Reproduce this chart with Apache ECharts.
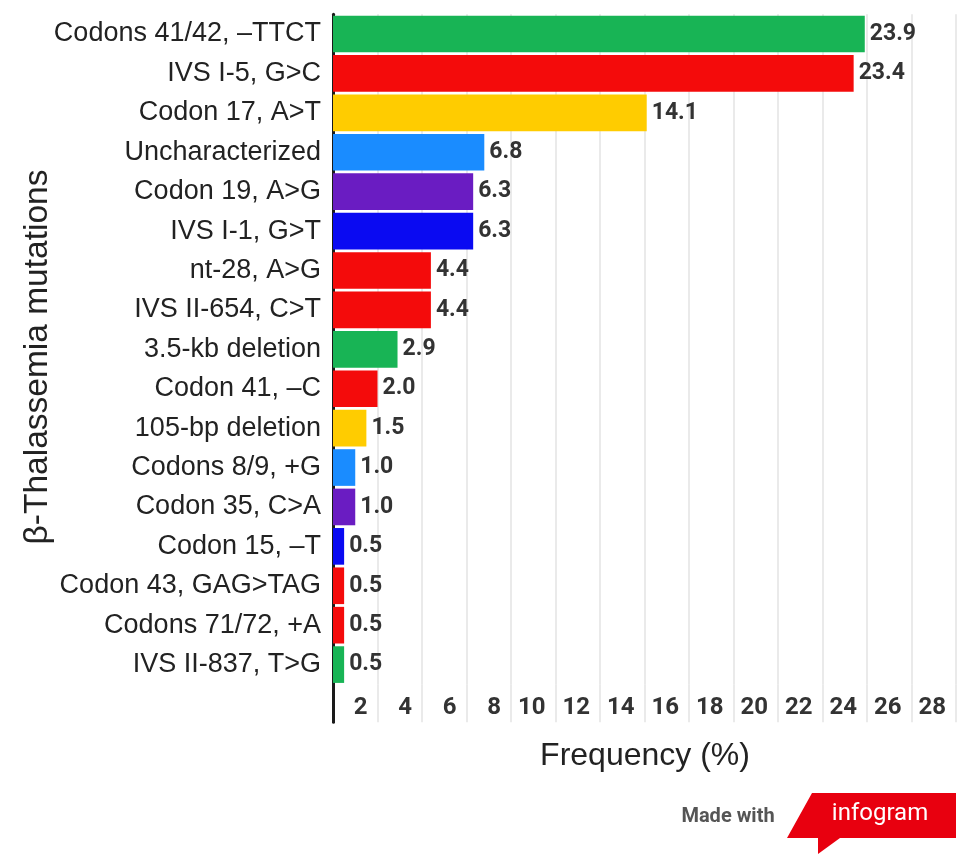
<!DOCTYPE html>
<html>
<head>
<meta charset="utf-8">
<style>html,body{margin:0;padding:0;background:#fff;}#c{width:969px;height:868px;}</style>
<script src="https://cdn.jsdelivr.net/npm/echarts@6/dist/echarts.min.js"></script>
</head>
<body>
<div id="c"></div>
<script>
const categories = [
  'Codons 41/42, \u2013TTCT', 'IVS I-5, G>C', 'Codon 17, A>T', 'Uncharacterized',
  'Codon 19, A>G', 'IVS I-1, G>T', 'nt-28, A>G', 'IVS II-654, C>T',
  '3.5-kb deletion', 'Codon 41, \u2013C', '105-bp deletion', 'Codons 8/9, +G',
  'Codon 35, C>A', 'Codon 15, \u2013T', 'Codon 43, GAG>TAG', 'Codons 71/72, +A',
  'IVS II-837, T>G'
];
const values = [23.9, 23.4, 14.1, 6.8, 6.3, 6.3, 4.4, 4.4, 2.9, 2.0, 1.5, 1.0, 1.0, 0.5, 0.5, 0.5, 0.5];
const palette = ['#18b455', '#f40b0b', '#ffcc00', '#1a8cff', '#6a1cc2', '#0a0af2', '#f40b0b', '#f40b0b'];
const xMin = 0, xMax = 28, xStep = 2;
const xTitle = 'Frequency (%)';
const yTitle = '\u03b2-Thalassemia mutations';

const chart = echarts.init(document.getElementById('c'), null, {renderer: 'canvas'});
const gridLine = {show: true, lineStyle: {color: '#e3e3e3', width: 1.5}};
const axisBlack = {show: true, lineStyle: {color: '#1a1a1a', width: 3}};
const option = {
  animation: false,
  backgroundColor: '#ffffff',
  grid: [
    {left: 333, right: 13, top: 14.3, height: 670},
    {left: 333, right: 13, top: 684.3, height: 38}
  ],
  xAxis: [
    {gridIndex: 0, type: 'value', min: xMin, max: xMax, interval: xStep,
     axisLine: {show: false}, axisTick: {show: false}, axisLabel: {show: false}, splitLine: gridLine},
    {gridIndex: 1, type: 'value', min: xMin, max: xMax, interval: xStep,
     axisLine: {show: false}, axisTick: {show: false}, splitLine: gridLine,
     axisLabel: {show: true, inside: true, margin: 14, verticalAlign: 'middle', align: 'right',
       padding: [0, 10, 0, 0], showMinLabel: false,
       fontFamily: 'Roboto', fontWeight: 'bold', fontSize: 24, color: '#333'}}
  ],
  yAxis: [
    {gridIndex: 0, type: 'category', data: categories, inverse: true,
     axisLine: axisBlack, axisTick: {show: false},
     axisLabel: {fontFamily: 'Liberation Sans', fontSize: 27, color: '#222', margin: 12}},
    {gridIndex: 1, type: 'value', axisLine: axisBlack, axisTick: {show: false},
     axisLabel: {show: false}, splitLine: {show: false}}
  ],
  series: [{
    type: 'bar', xAxisIndex: 0, yAxisIndex: 0,
    barCategoryGap: '7%',
    data: values.map((v, i) => ({value: v, itemStyle: {color: palette[i % palette.length]}})),
    label: {show: true, position: 'right', distance: 5,
      formatter: p => Number(p.value).toFixed(1),
      fontFamily: 'Roboto', fontWeight: 'bold', fontSize: 23, color: '#333'}
  }],
  graphic: [
    {type: 'text', x: 38, y: 357, rotation: Math.PI / 2,
     style: {text: yTitle, fontFamily: 'Liberation Sans', fontSize: 33.5, fill: '#222', align: 'center', verticalAlign: 'middle'}},
    {type: 'text', x: 645, y: 756,
     style: {text: xTitle, fontFamily: 'Liberation Sans', fontSize: 32, fill: '#222', align: 'center', verticalAlign: 'middle'}},
    {type: 'text', x: 728, y: 817,
     style: {text: 'Made with', fontFamily: 'Roboto', fontWeight: 'bold', fontSize: 20, fill: '#555', align: 'center', verticalAlign: 'middle'}},
    {type: 'polygon',
     shape: {points: [[812, 793], [956, 793], [956, 838], [840, 838], [818, 854], [818, 838], [787, 838]]},
     style: {fill: '#e8000f'}},
    {type: 'text', x: 880, y: 814,
     style: {text: 'infogram', fontFamily: 'Roboto', fontSize: 24, fill: '#ffffff', align: 'center', verticalAlign: 'middle'}}
  ]
};
chart.setOption(option);
</script>
</body>
</html>
